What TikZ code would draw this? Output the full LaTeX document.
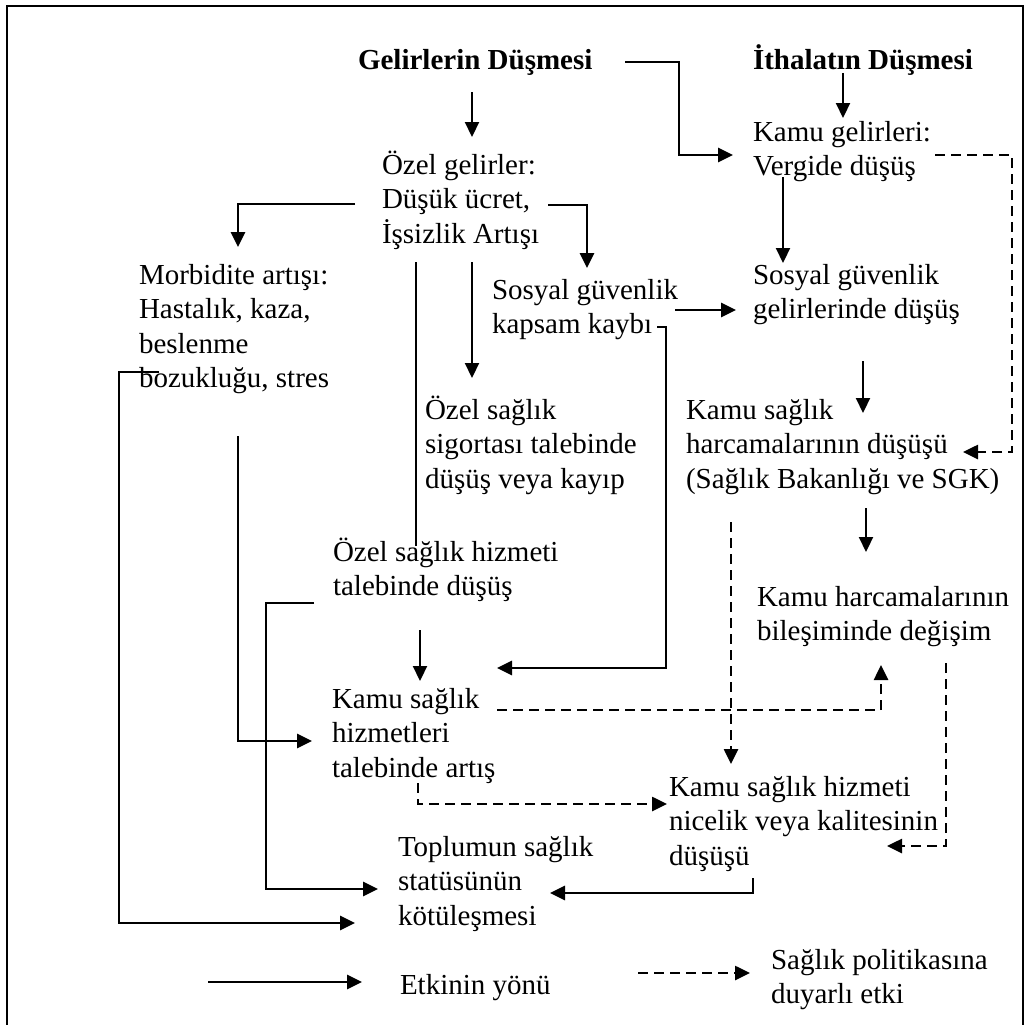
\documentclass[tikz,border=0pt]{standalone}
\usepackage{fontspec}
\setmainfont{Liberation Serif}
\usetikzlibrary{arrows.meta}

% multi-line label whose baseline is the first line's baseline
\newcommand\txtblock[1]{\begin{tabular}[t]{@{}l@{}}#1\end{tabular}}

\begin{document}
\begin{tikzpicture}[x=1pt,y=-1pt,
  lbl/.style={anchor=base west, inner sep=0pt, outer sep=0pt,
              font=\fontsize{29}{34.5}\selectfont},
  ttl/.style={lbl, font=\fontsize{29}{34.5}\selectfont\bfseries},
  tip/.style={-{Triangle[length=15pt,width=14pt]}},
  sline/.style={line width=2.8pt},
  sarr/.style={sline, tip},
  varr/.style={line width=2.2pt, tip},
  darr/.style={line width=2.6pt, dash pattern=on 10pt off 6pt, tip},
  frame/.style={line width=2.2pt}
]
\useasboundingbox (0,0) rectangle (1036,1025);

% outer frame, open at the bottom
\draw[frame] (7,1025) -- (7,6) -- (1023,6) -- (1023,1025);

% ---- labels ----
\node[ttl] (gel) at (358,70) {Gelirlerin Düşmesi};
\node[ttl] (ith) at (753,70) {İthalatın Düşmesi};
\node[lbl] (ozg) at (382,174) {\txtblock{Özel gelirler:\\Düşük ücret,\\İşsizlik Artışı}};
\node[lbl] (kmg) at (753,141) {\txtblock{Kamu gelirleri:\\Vergide düşüş}};
\node[lbl] (sgg) at (753,284) {\txtblock{Sosyal güvenlik\\gelirlerinde düşüş}};
\node[lbl] (mor) at (139,284) {\txtblock{Morbidite artışı:\\Hastalık, kaza,\\beslenme\\bozukluğu, stres}};
\node[lbl] (sgk) at (492,299) {\txtblock{Sosyal güvenlik\\kapsam kaybı}};
\node[lbl] (ozs) at (425,419) {\txtblock{Özel sağlık\\sigortası talebinde\\düşüş veya kayıp}};
\node[lbl] (ksh) at (686,419) {\txtblock{Kamu sağlık\\harcamalarının düşüşü\\(Sağlık Bakanlığı ve SGK)}};
\node[lbl] (ozh) at (333,561) {\txtblock{Özel sağlık hizmeti\\talebinde düşüş}};
\node[lbl] (khb) at (757,606) {\txtblock{Kamu harcamalarının\\bileşiminde değişim}};
\node[lbl] (kst) at (332,708) {\txtblock{Kamu sağlık\\hizmetleri\\talebinde artış}};
\node[lbl] (ksn) at (669,796) {\txtblock{Kamu sağlık hizmeti\\nicelik veya kalitesinin\\düşüşü}};
\node[lbl] (tsd) at (398,856) {\txtblock{Toplumun sağlık\\statüsünün\\kötüleşmesi}};
\node[lbl] (ley) at (400,994) {Etkinin yönü};
\node[lbl] (lpd) at (771,969) {\txtblock{Sağlık politikasına\\duyarlı etki}};

% ---- connector end points ----
\coordinate (gel-s)  at (472,92);   \coordinate (ozg-n)  at (472,137);
\coordinate (gel-e)  at (625,62);   \coordinate (kmg-w)  at (733,155);
\coordinate (ith-s)  at (843,73);   \coordinate (kmg-n)  at (843,118);
\coordinate (ozg-w)  at (355,204);  \coordinate (mor-n)  at (238,247);
\coordinate (ozg-e)  at (548,205);  \coordinate (sgk-n)  at (587,268);
\coordinate (ozg-s1) at (472,262);  \coordinate (ozs-n)  at (472,378);
\coordinate (ozg-s2) at (416,262);  \coordinate (ozh-n)  at (416,546);
\coordinate (kmg-s)  at (783,177);  \coordinate (sgg-n)  at (783,263);
\coordinate (sgk-e)  at (675,310);  \coordinate (sgg-w)  at (736,310);
\coordinate (sgk-se) at (657,327);  \coordinate (kst-e)  at (497,668);
\coordinate (sgg-s)  at (863,361);  \coordinate (ksh-n)  at (863,413);
\coordinate (ksh-s)  at (866,508);  \coordinate (khb-n)  at (866,552);
\coordinate (mor-s)  at (238,436);  \coordinate (kst-w)  at (312,741);
\coordinate (ozh-s)  at (420,630);  \coordinate (kst-n)  at (420,681);
\coordinate (ozh-w)  at (314,603);  \coordinate (tsd-w1) at (378,889);
\coordinate (mor-w)  at (159,372);  \coordinate (tsd-w2) at (355,923);
\coordinate (ksn-s)  at (753,878);  \coordinate (tsd-e)  at (550,893);
\coordinate (kmg-e)  at (935,155);  \coordinate (ksh-e)  at (963,452);
\coordinate (ksh-sd) at (731,522);  \coordinate (ksn-n)  at (731,764);
\coordinate (kst-ed) at (497,710);  \coordinate (khb-s)  at (881,665);
\coordinate (kst-s)  at (418,783);  \coordinate (ksn-w)  at (667,804);
\coordinate (khb-se) at (946,663);  \coordinate (ksn-e)  at (887,846);
\coordinate (ley-a)  at (208,982);  \coordinate (ley-b)  at (362,982);
\coordinate (lpd-a)  at (638,973);  \coordinate (lpd-b)  at (750,973);

% ---- solid connectors: direction of the effect ----
\draw[varr] (gel-s) -- (ozg-n);
\draw[sarr] (gel-e) -| (679,155) -- (kmg-w);
\draw[varr] (ith-s) -- (kmg-n);
\draw[sarr] (ozg-w) -| (mor-n);
\draw[sarr] (ozg-e) -| (sgk-n);
\draw[varr] (ozg-s1) -- (ozs-n);
\draw[line width=2pt] (ozg-s2) -- (ozh-n);
\draw[varr] (kmg-s) -- (sgg-n);
\draw[sarr] (sgk-e) -- (sgg-w);
\draw[sarr] (sgk-se) -| (666,668) -- (kst-e);
\draw[varr] (sgg-s) -- (ksh-n);
\draw[varr] (ksh-s) -- (khb-n);
\draw[sarr] (mor-s) |- (kst-w);
\draw[varr] (ozh-s) -- (kst-n);
\draw[sarr] (ozh-w) -| (266,889) -- (tsd-w1);
\draw[sarr] (mor-w) -| (119,923) -- (tsd-w2);
\draw[sarr] (ksn-s) |- (tsd-e);

% ---- dashed connectors: policy-sensitive effects ----
\draw[darr] (kmg-e) -| (1012,452) -- (ksh-e);
\draw[darr] (ksh-sd) -- (ksn-n);
\draw[darr] (kst-ed) -| (khb-s);
\draw[darr] (kst-s) |- (ksn-w);
\draw[darr] (khb-se) |- (ksn-e);

% ---- legend ----
\draw[sarr] (ley-a) -- (ley-b);
\draw[darr] (lpd-a) -- (lpd-b);
\end{tikzpicture}
\end{document}
